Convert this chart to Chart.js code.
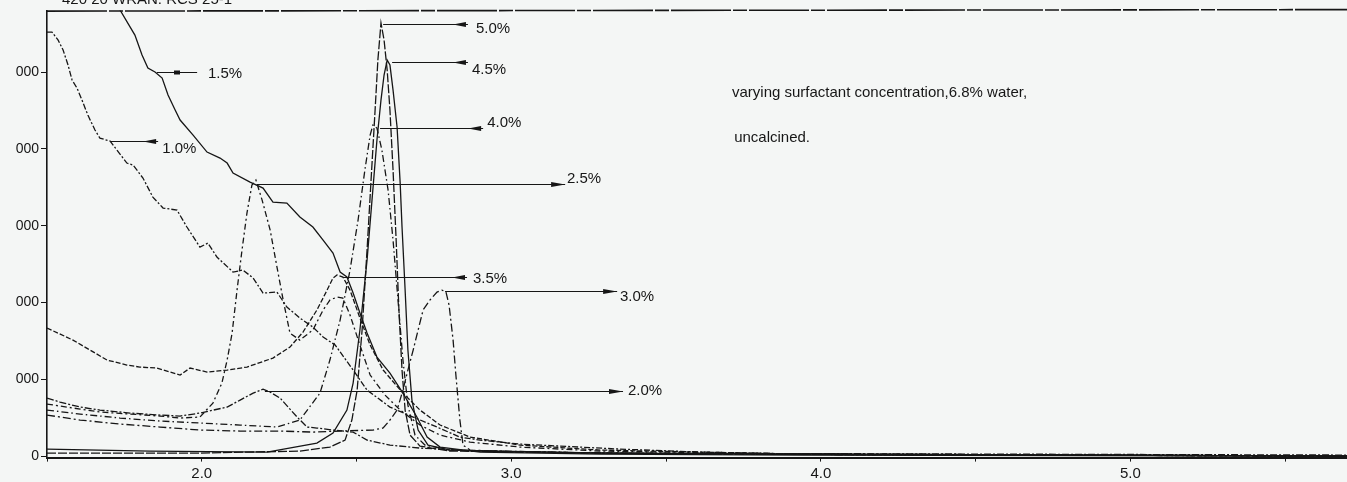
<!DOCTYPE html>
<html>
<head>
<meta charset="utf-8">
<script src="https://cdn.jsdelivr.net/npm/chart.js@4/dist/chart.umd.min.js"></script>
<style>
  html, body { margin: 0; padding: 0; background: #f4f6f5; overflow: hidden; }
  #wrap { position: relative; width: 1347px; height: 482px; }
  canvas { display: block; }
</style>
</head>
<body>
<div id="wrap"><canvas id="xrd" width="1347" height="482"></canvas></div>
<script>
// Low-angle XRD scans: 2θ (deg) and intensity (counts), one pair per surfactant loading.
const tt10  = [1.500,1.516,1.536,1.552,1.568,1.581,1.597,1.613,1.632,1.655,1.671,1.704,1.726,1.758,1.778,1.810,1.842,1.875,1.920,1.952,1.994,2.020,2.049,2.101,2.133,2.166,2.198,2.243,2.275,2.317,2.359,2.392,2.431,2.489,2.534,2.608,2.683,2.760,2.834,2.899,3.028,3.158,3.351,3.610,3.933,4.256,4.902,5.700];
const cps10 = [5521,5521,5416,5286,5091,4896,4791,4635,4440,4245,4140,4101,3984,3815,3789,3620,3372,3229,3203,2982,2721,2773,2591,2396,2422,2318,2122,2135,1940,1797,1680,1550,1445,1120,859,638,508,378,247,208,156,130,91,52,26,13,13,0];

const tt15  = [1.687,1.736,1.784,1.807,1.826,1.849,1.872,1.891,1.914,1.930,1.972,2.017,2.059,2.082,2.101,2.156,2.198,2.230,2.275,2.317,2.359,2.392,2.424,2.447,2.469,2.489,2.511,2.534,2.566,2.608,2.650,2.695,2.728,2.770,2.899,3.287,3.933,5.700];
const cps15 = [6458,5807,5481,5221,5052,5000,4922,4700,4505,4375,4179,3958,3880,3815,3685,3567,3489,3307,3294,3112,2982,2812,2643,2396,2331,2122,1862,1602,1289,1081,820,508,247,117,52,26,13,0];

const tt20  = [1.500,1.542,1.607,1.671,1.768,1.865,1.930,1.994,2.082,2.124,2.166,2.198,2.221,2.253,2.308,2.340,2.372,2.424,2.489,2.534,2.608,2.705,2.899,3.287,5.700];
const cps20 = [755,703,638,599,560,534,521,560,638,729,820,872,833,755,508,378,365,339,312,208,143,104,65,39,13];

const tt25  = [1.500,1.542,1.607,1.671,1.768,1.865,1.930,1.994,2.036,2.065,2.082,2.098,2.114,2.130,2.146,2.162,2.175,2.195,2.221,2.243,2.263,2.285,2.317,2.359,2.392,2.414,2.437,2.456,2.479,2.511,2.544,2.592,2.641,2.705,2.770,2.867,3.028,3.287,3.933,5.700];
const cps25 = [677,651,612,573,547,521,495,508,690,950,1250,1601,2161,2682,3164,3528,3594,3333,2943,2461,2031,1601,1510,1641,1901,2031,2070,2057,1836,1445,1055,794,599,404,273,182,117,65,26,0];

const tt30  = [1.500,1.607,1.736,1.865,1.994,2.124,2.253,2.359,2.447,2.553,2.586,2.608,2.631,2.650,2.666,2.683,2.699,2.715,2.737,2.760,2.776,2.789,2.799,2.812,2.821,2.834,2.844,2.867,3.028,3.610,5.700];
const cps30 = [534,469,417,378,339,326,326,312,326,339,365,469,599,859,1120,1380,1641,1901,2031,2135,2161,2135,1966,1510,1055,469,143,78,52,26,0];

const tt35  = [1.500,1.584,1.639,1.694,1.758,1.800,1.855,1.930,1.962,2.017,2.082,2.146,2.230,2.285,2.327,2.372,2.405,2.424,2.437,2.456,2.479,2.511,2.544,2.586,2.650,2.705,2.770,2.867,3.028,3.287,3.933,5.700];
const cps35 = [1667,1510,1380,1250,1185,1159,1146,1055,1146,1094,1120,1159,1276,1419,1614,1901,2161,2318,2357,2331,2161,1797,1445,1120,820,599,404,247,143,78,26,0];

const tt40  = [1.500,1.607,1.736,1.865,1.994,2.124,2.243,2.317,2.382,2.414,2.447,2.479,2.505,2.527,2.544,2.553,2.566,2.582,2.602,2.618,2.634,2.650,2.666,2.689,2.721,2.802,3.287,5.700];
const cps40 = [599,547,495,456,430,404,378,469,820,1250,1771,2422,3073,3724,4179,4310,4271,3984,3463,2812,2031,1250,664,273,143,78,39,0];

const tt45  = [1.500,1.833,2.211,2.372,2.424,2.469,2.489,2.511,2.534,2.550,2.566,2.579,2.589,2.599,2.608,2.618,2.631,2.641,2.647,2.657,2.666,2.679,2.699,2.731,2.802,3.287,5.700];
const cps45 = [91,65,52,169,299,599,950,1641,2552,3333,4115,4635,4961,5156,5091,4765,4284,3554,2982,2161,1380,729,339,143,78,39,0];

const tt50  = [1.500,1.994,2.317,2.414,2.463,2.485,2.502,2.518,2.534,2.547,2.560,2.569,2.579,2.589,2.599,2.608,2.618,2.628,2.637,2.647,2.657,2.673,2.705,2.802,3.610,5.700];
const cps50 = [39,39,65,117,208,469,859,1641,2682,3594,4505,5156,5638,5416,5026,4505,3724,2812,1901,1120,599,273,130,65,26,0];

const seriesNames = ['1.0%','1.5%','2.0%','2.5%','3.0%','3.5%','4.0%','4.5%','5.0%'];
const seriesX = [tt10, tt15, tt20, tt25, tt30, tt35, tt40, tt45, tt50];
const seriesY = [cps10, cps15, cps20, cps25, cps30, cps35, cps40, cps45, cps50];

// Axis ticks
const xTickValues = [1.5, 2.0, 2.5, 3.0, 3.5, 4.0, 4.5, 5.0, 5.5];
const xTickLabels = ['', '2.0', '', '3.0', '', '4.0', '', '5.0', ''];
const yTickValues = [0, 1000, 2000, 3000, 4000, 5000];
const yTickLabels = ['0', '000', '000', '000', '000', '000'];

// Callout lines: start at the peak, run to the label
const calloutNames = ['5.0%', '4.5%', '4.0%', '2.5%', '3.5%', '3.0%', '2.0%', '1.5%', '1.0%'];
const calloutY     = [5625, 5130, 4271, 3542, 2331, 2148, 846, 5000, 4101];
const calloutFrom  = [2.586, 2.615, 2.576, 2.178, 2.456, 2.786, 2.204, 1.855, 1.704];
const calloutTo    = [2.860, 2.860, 2.909, 3.174, 2.857, 3.342, 3.361, 1.985, 1.859];
const calloutHead  = ['L', 'L', 'L', 'R', 'L', 'R', 'R', 'S', 'L'];
const calloutTextX = [2.886, 2.873, 2.922, 3.180, 2.876, 3.351, 3.377, 2.020, 1.872];
const calloutTextY = [5560, 5026, 4336, 3607, 2305, 2070, 846, 4974, 3997];

const noteLines = ['varying surfactant concentration,6.8% water,', 'uncalcined.'];
const noteX = [3.713, 3.720];
const noteY = [4726, 4140];
const headerText = '420 20 WRAN: RCS 25-1';

const INK = '#161616';
const FONT = "'Liberation Sans', Arial, sans-serif";
const dashes = [[6,2,2,2], [], [7,2,2,2], [6,3,2,3], [8,3,2,3], [5,2], [7,3,1.5,3], [], [9,2]];

Chart.defaults.font.family = FONT;
Chart.defaults.color = INK;

const datasets = seriesNames.map((name, i) => ({
  label: name,
  data: seriesX[i].map((x, k) => ({ x: x, y: seriesY[i][k] })),
  borderColor: INK,
  borderWidth: 1.3,
  borderDash: dashes[i],
  pointRadius: 0,
  fill: false,
  tension: 0
}));

const paperPlugin = {
  id: 'paper',
  beforeDraw(chart) {
    const ctx = chart.ctx;
    ctx.save();
    ctx.fillStyle = '#f4f6f5';
    ctx.fillRect(0, 0, chart.width, chart.height);
    ctx.restore();
  },
  afterDraw(chart) {
    const ctx = chart.ctx, a = chart.chartArea, xs = chart.scales.x, ys = chart.scales.y;
    ctx.save();
    // frame along the top
    ctx.strokeStyle = INK;
    ctx.lineWidth = 1.6;
    ctx.setLineDash([60, 2, 14, 2]);
    ctx.beginPath();
    ctx.moveTo(a.left, a.top + 0.5);
    ctx.lineTo(chart.width, a.top - 1);
    ctx.stroke();
    ctx.setLineDash([]);

    // header, cut by the top edge
    ctx.font = '15px ' + FONT;
    ctx.fillStyle = INK;
    ctx.textBaseline = 'alphabetic';
    ctx.fillText(headerText, 62, 4);

    // callouts
    ctx.lineWidth = 1.1;
    ctx.textBaseline = 'middle';
    ctx.font = '15px ' + FONT;
    calloutNames.forEach((name, i) => {
      const y = Math.round(ys.getPixelForValue(calloutY[i])) + 0.5;
      const x0 = xs.getPixelForValue(calloutFrom[i]);
      const x1 = xs.getPixelForValue(calloutTo[i]);
      ctx.beginPath();
      ctx.moveTo(x0, y);
      ctx.lineTo(x1, y);
      ctx.stroke();
      ctx.beginPath();
      if (calloutHead[i] === 'R') {
        ctx.moveTo(x1, y); ctx.lineTo(x1 - 14, y - 2.6); ctx.lineTo(x1 - 14, y + 2.6);
      } else if (calloutHead[i] === 'L') {
        ctx.moveTo(x1 - 15, y); ctx.lineTo(x1 - 2, y - 2.4); ctx.lineTo(x1 - 2, y + 2.4);
      } else {
        const m = (x0 + x1) / 2;
        ctx.rect(m - 3, y - 2, 6, 4);
      }
      ctx.closePath();
      ctx.fill();
      ctx.fillText(name, xs.getPixelForValue(calloutTextX[i]), ys.getPixelForValue(calloutTextY[i]));
    });

    // sample note
    ctx.font = '15px ' + FONT;
    noteLines.forEach((t, i) => {
      ctx.fillText(t, xs.getPixelForValue(noteX[i]), ys.getPixelForValue(noteY[i]));
    });
    ctx.restore();
  }
};

new Chart(document.getElementById('xrd'), {
  type: 'line',
  data: { datasets },
  options: {
    responsive: false,
    animation: false,
    events: [],
    layout: { padding: { top: 10.6, left: 0, right: 0, bottom: 0 } },
    plugins: { legend: { display: false }, tooltip: { enabled: false }, title: { display: false } },
    scales: {
      x: {
        type: 'linear',
        min: 1.5,
        max: 5.7,
        afterBuildTicks: s => { s.ticks = xTickValues.map(v => ({ value: v })); },
        afterFit: s => { s.height = 24.4; },
        ticks: {
          autoSkip: false,
          maxRotation: 0,
          padding: 3,
          color: INK,
          font: { size: 15 },
          callback: v => xTickLabels[xTickValues.indexOf(v)] ?? ''
        },
        grid: { drawOnChartArea: false, drawTicks: true, tickLength: 4, color: INK, lineWidth: 1 },
        border: { display: true, color: INK, width: 2 }
      },
      y: {
        type: 'linear',
        min: -20,
        max: 5800,
        afterBuildTicks: s => { s.ticks = yTickValues.map(v => ({ value: v })); },
        afterFit: s => { s.width = 47; },
        ticks: {
          padding: 2,
          color: INK,
          font: { size: 14 },
          callback: v => yTickLabels[yTickValues.indexOf(v)] ?? ''
        },
        grid: { drawOnChartArea: false, drawTicks: true, tickLength: 6, color: INK, lineWidth: 1 },
        border: { display: true, color: INK, width: 1.6 }
      }
    }
  },
  plugins: [paperPlugin]
});
</script>
</body>
</html>
